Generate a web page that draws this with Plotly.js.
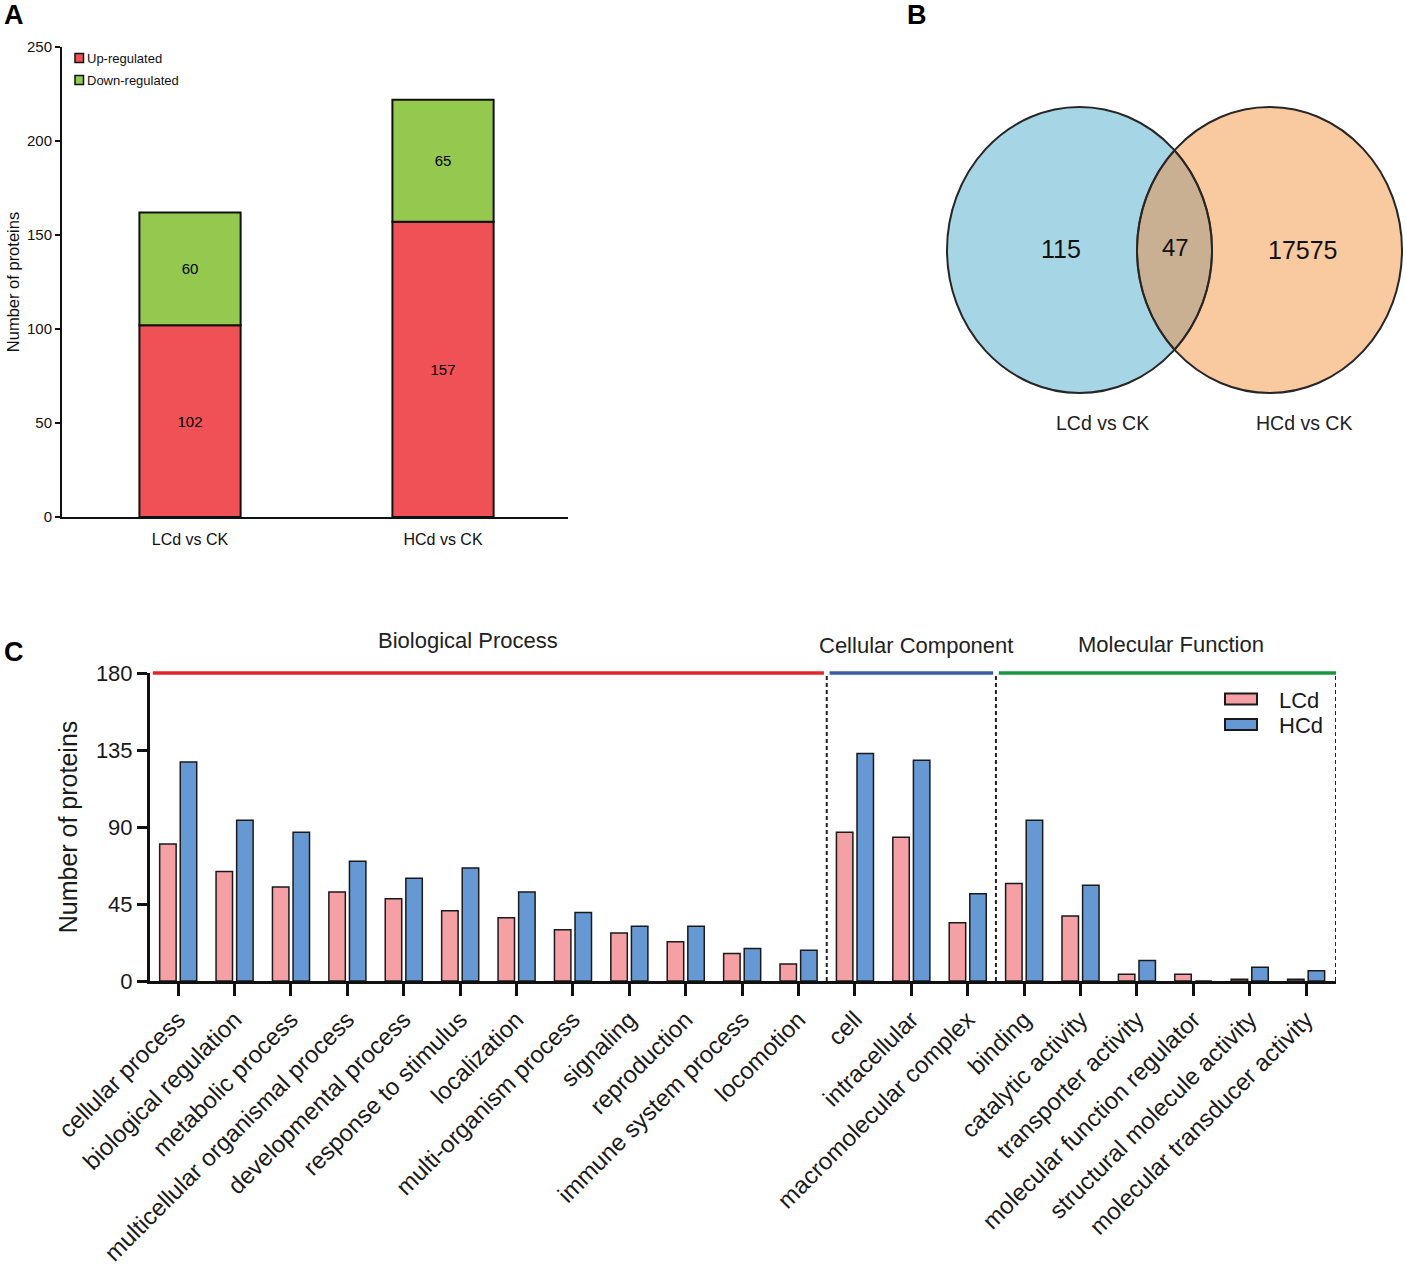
<!DOCTYPE html>
<html>
<head>
<meta charset="utf-8">
<script src="https://cdn.plot.ly/plotly-3.0.1.min.js"></script>
<style>
html,body{margin:0;padding:0;background:#ffffff;}
#chart{width:1406px;height:1275px;}
</style>
</head>
<body>
<div id="chart"></div>
<script>
// ---------------- DATA ----------------
// Panel A: differentially expressed proteins
const groupsA = ['LCd vs CK', 'HCd vs CK'];
const seriesA = ['Up-regulated', 'Down-regulated'];
const upA = [102, 157];
const downA = [60, 65];

// Panel B: Venn diagram counts
const vennSets = ['LCd vs CK', 'HCd vs CK'];
const vennOnlyL = 115;
const vennBoth = 47;
const vennOnlyH = 17575;

// Panel C: GO classification
const goClasses = ['Biological Process', 'Cellular Component', 'Molecular Function'];
const classSizes = [12, 3, 6];
const goTerms = [
  'cellular process', 'biological regulation', 'metabolic process',
  'multicellular organismal process', 'developmental process', 'response to stimulus',
  'localization', 'multi-organism process', 'signaling', 'reproduction',
  'immune system process', 'locomotion',
  'cell', 'intracellular', 'macromolecular complex',
  'binding', 'catalytic activity', 'transporter activity',
  'molecular function regulator', 'structural molecule activity', 'molecular transducer activity'
];
const seriesC = ['LCd', 'HCd'];
const lcdCounts = [80, 64, 55, 52, 48, 41, 37, 30, 28, 23, 16, 10, 87, 84, 34, 57, 38, 4, 4, 1, 1];
const hcdCounts = [128, 94, 87, 70, 60, 66, 52, 40, 32, 32, 19, 18, 133, 129, 51, 94, 56, 12, 0, 8, 6];
const ticksC = [0, 45, 90, 135, 180];

// ---------------- STYLE / LAYOUT HELPERS ----------------
const W = 1406, H = 1275;
const FONT = 'Liberation Sans, Arial, Helvetica, sans-serif';
const px = x => x / W;
const py = y => 1 - y / H;

const colUp = '#ef5157', colDown = '#94c84f';
const colL = '#f5a0a5', colH = '#6699d3';

const traces = [];

// Panel A traces (stack via base, same offsetgroup)
traces.push({
  type: 'bar', x: groupsA, y: upA, name: seriesA[0],
  xaxis: 'x', yaxis: 'y', offsetgroup: 'A', width: 0.4,
  marker: {color: colUp, line: {color: '#111', width: 2}},
  text: upA.map(String), textposition: 'inside', insidetextanchor: 'middle',
  textangle: 0, constraintext: 'none',
  textfont: {family: FONT, size: 15, color: '#000'},
  showlegend: false, hoverinfo: 'x+y+name'
});
traces.push({
  type: 'bar', x: groupsA, y: downA, base: upA, name: seriesA[1],
  xaxis: 'x', yaxis: 'y', offsetgroup: 'A', width: 0.4,
  marker: {color: colDown, line: {color: '#111', width: 2}},
  text: downA.map(String), textposition: 'inside', insidetextanchor: 'middle',
  textangle: 0, constraintext: 'none',
  textfont: {family: FONT, size: 15, color: '#000'},
  showlegend: false, hoverinfo: 'x+y+name'
});

// Panel C traces
traces.push({
  type: 'bar', x: goTerms, y: lcdCounts, name: seriesC[0],
  xaxis: 'x2', yaxis: 'y2', offsetgroup: 'L',
  marker: {color: colL, line: {color: '#1a1a1a', width: 1.5}},
  showlegend: false
});
traces.push({
  type: 'bar', x: goTerms, y: hcdCounts, name: seriesC[1],
  xaxis: 'x2', yaxis: 'y2', offsetgroup: 'H',
  marker: {color: colH, line: {color: '#1a1a1a', width: 1.5}},
  showlegend: false
});

const shapes = [];
const annotations = [];

// ---- Panel labels
[['A', 2, 15], ['B', 905, 15], ['C', 2, 652]].forEach(([t, x, y]) => {
  annotations.push({text: '<b>' + t + '</b>', xref: 'paper', yref: 'paper',
    x: px(x), y: py(y), xanchor: 'left', yanchor: 'middle', showarrow: false,
    font: {family: FONT, size: 27, color: '#000'}});
});

// ---- Panel A legend (custom)
const legA = [[seriesA[0], colUp, 58], [seriesA[1], colDown, 80]];
legA.forEach(([name, col, yc]) => {
  shapes.push({type: 'rect', xref: 'paper', yref: 'paper',
    x0: px(75), x1: px(83.5), y0: py(yc + 4.5), y1: py(yc - 4.5),
    fillcolor: col, line: {color: '#111', width: 1.5}});
  annotations.push({text: name, xref: 'paper', yref: 'paper', x: px(85), y: py(yc),
    xanchor: 'left', yanchor: 'middle', showarrow: false,
    font: {family: FONT, size: 13, color: '#111'}});
});

// ---- Panel B Venn
const venn = {cxL: 1079.5, cxR: 1269.5, cy: 250, rx: 132.5, ry: 143};
shapes.push({type: 'circle', xref: 'paper', yref: 'paper',
  x0: px(venn.cxL - venn.rx), x1: px(venn.cxL + venn.rx),
  y0: py(venn.cy + venn.ry), y1: py(venn.cy - venn.ry),
  fillcolor: '#a6d6e5', line: {width: 0}});
shapes.push({type: 'circle', xref: 'paper', yref: 'paper',
  x0: px(venn.cxR - venn.rx), x1: px(venn.cxR + venn.rx),
  y0: py(venn.cy + venn.ry), y1: py(venn.cy - venn.ry),
  fillcolor: '#f9c9a0', line: {width: 0}});
// lens
(function () {
  const d = venn.cxR - venn.cxL;
  const t0 = Math.acos((d / 2) / venn.rx);
  const n = 60;
  const pts = [];
  for (let i = 0; i <= n; i++) {
    const t = -t0 + (2 * t0) * i / n;
    pts.push([venn.cxL + venn.rx * Math.cos(t), venn.cy + venn.ry * Math.sin(t)]);
  }
  for (let i = 0; i <= n; i++) {
    const t = Math.PI - t0 + (2 * t0) * i / n;
    pts.push([venn.cxR + venn.rx * Math.cos(t), venn.cy + venn.ry * Math.sin(t)]);
  }
  const path = 'M' + pts.map(p => px(p[0]).toFixed(6) + ',' + py(p[1]).toFixed(6)).join('L') + 'Z';
  shapes.push({type: 'path', xref: 'paper', yref: 'paper', path: path,
    fillcolor: '#c9b092', line: {color: '#5e4630', width: 2}});
})();
shapes.push({type: 'circle', xref: 'paper', yref: 'paper',
  x0: px(venn.cxL - venn.rx), x1: px(venn.cxL + venn.rx),
  y0: py(venn.cy + venn.ry), y1: py(venn.cy - venn.ry),
  fillcolor: 'rgba(0,0,0,0)', line: {color: '#262626', width: 2}});
shapes.push({type: 'circle', xref: 'paper', yref: 'paper',
  x0: px(venn.cxR - venn.rx), x1: px(venn.cxR + venn.rx),
  y0: py(venn.cy + venn.ry), y1: py(venn.cy - venn.ry),
  fillcolor: 'rgba(0,0,0,0)', line: {color: '#262626', width: 2}});
[[vennOnlyL, 1061, 249, 25], [vennBoth, 1175, 247, 24], [vennOnlyH, 1303, 250, 25]].forEach(([v, x, y, s]) => {
  annotations.push({text: String(v), xref: 'paper', yref: 'paper', x: px(x), y: py(y),
    xanchor: 'center', yanchor: 'middle', showarrow: false,
    font: {family: FONT, size: s, color: '#111'}});
});
[[vennSets[0], 1102, 423], [vennSets[1], 1304, 423]].forEach(([t, x, y]) => {
  annotations.push({text: t, xref: 'paper', yref: 'paper', x: px(x), y: py(y),
    xanchor: 'center', yanchor: 'middle', showarrow: false,
    font: {family: FONT, size: 19.5, color: '#222'}});
});

// ---- Panel C class separators & header lines
const xMaxC = 20.53;
const bounds = [];
let acc = 0;
classSizes.forEach((s, i) => { acc += s; bounds.push(i === classSizes.length - 1 ? xMaxC : acc - 0.5); });
bounds.forEach(b => {
  shapes.push({type: 'line', xref: 'x2', yref: 'paper', x0: b, x1: b, y0: py(981), y1: py(673),
    line: {color: '#222', width: 2, dash: '4px,3px'}});
});
const classColors = ['#e8242b', '#3c5aa8', '#1a9641'];
bounds.forEach((b, i) => {
  const start = i === 0 ? -0.45 : bounds[i - 1] + 0.05;
  const end = i === bounds.length - 1 ? b : b - 0.05;
  shapes.push({type: 'line', xref: 'x2', yref: 'paper', x0: start, x1: end, y0: py(673), y1: py(673),
    line: {color: classColors[i], width: 3.5}});
});
const headerPos = [[5.14, 641], [13.09, 645], [17.6, 644]];
goClasses.forEach((c, i) => {
  annotations.push({text: c, xref: 'x2', yref: 'paper', x: headerPos[i][0], y: py(headerPos[i][1]),
    xanchor: 'center', yanchor: 'middle', showarrow: false,
    font: {family: FONT, size: 22, color: '#222'}});
});

// ---- Panel C legend (custom)
const legC = [[seriesC[0], colL, 699], [seriesC[1], colH, 724.5]];
legC.forEach(([name, col, yc]) => {
  shapes.push({type: 'rect', xref: 'paper', yref: 'paper',
    x0: px(1225), x1: px(1257), y0: py(yc + 5.5), y1: py(yc - 5.5),
    fillcolor: col, line: {color: '#1a1a1a', width: 2}});
  annotations.push({text: name, xref: 'paper', yref: 'paper', x: px(1277), y: py(yc + 1),
    xanchor: 'left', yanchor: 'middle', showarrow: false,
    font: {family: FONT, size: 22, color: '#1a1a1a'}});
});

const layout = {
  width: W, height: H,
  margin: {l: 0, r: 0, t: 0, b: 0},
  paper_bgcolor: '#ffffff', plot_bgcolor: 'rgba(0,0,0,0)',
  font: {family: FONT, color: '#111'},
  barmode: 'group', bargap: 0.27, bargroupgap: 0.2,
  showlegend: false,
  xaxis: {
    domain: [px(62), px(568)], anchor: 'y', type: 'category',
    range: [-0.506, 1.494], showline: true, linecolor: '#111', linewidth: 2,
    ticks: 'outside', ticklen: 7, tickcolor: 'rgba(0,0,0,0)',
    showgrid: false, zeroline: false, fixedrange: true,
    tickfont: {family: FONT, size: 16, color: '#111'}, automargin: false
  },
  yaxis: {
    domain: [py(517), py(47)], anchor: 'x',
    range: [0, 250], dtick: 50, tick0: 0, showline: true, linecolor: '#111', linewidth: 2,
    ticks: 'outside', ticklen: 5, tickwidth: 1.5, tickcolor: '#111',
    showgrid: false, zeroline: false, fixedrange: true,
    tickfont: {family: FONT, size: 15, color: '#111'},
    title: {text: 'Number of proteins', font: {family: FONT, size: 16.5, color: '#111'}, standoff: 3},
    automargin: false
  },
  xaxis2: {
    domain: [px(150), px(1336)], anchor: 'y2', type: 'category',
    range: [-0.5, xMaxC], showline: true, linecolor: '#111', linewidth: 3,
    ticks: 'outside', ticklen: 12, tickwidth: 3, tickcolor: '#111',
    tickangle: -45, showgrid: false, zeroline: false, fixedrange: true,
    tickfont: {family: FONT, size: 24, color: '#1a1a1a'}, automargin: false
  },
  yaxis2: {
    domain: [py(981), py(673)], anchor: 'x2',
    range: [0, 180], tickvals: ticksC, ticktext: ticksC.map(String),
    showline: true, linecolor: '#111', linewidth: 3,
    ticks: 'outside', ticklen: 10, tickwidth: 3, tickcolor: '#111',
    showgrid: false, zeroline: false, fixedrange: true,
    tickfont: {family: FONT, size: 22, color: '#1a1a1a'},
    title: {text: 'Number of proteins', font: {family: FONT, size: 25, color: '#1a1a1a'}, standoff: 12},
    automargin: false
  },
  shapes: shapes,
  annotations: annotations
};

Plotly.newPlot('chart', traces, layout, {displayModeBar: false, staticPlot: true});
</script>
</body>
</html>
